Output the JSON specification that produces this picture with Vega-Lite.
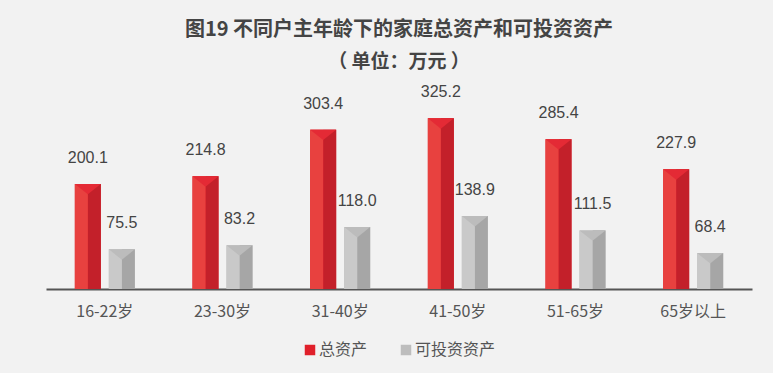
{
  "$schema": "https://vega.github.io/schema/vega-lite/v6.json",
  "autosize": "none",
  "width": 706,
  "height": 210,
  "padding": {"left": 46, "top": 79, "right": 21, "bottom": 84},
  "background": "#f2f2f2",
  "config": {
    "view": {"stroke": null},
    "font": "Noto Sans CJK SC"
  },
  "title": {
    "text": "图19 不同户主年龄下的家庭总资产和可投资资产",
    "subtitle": "（ 单位：万元 ）",
    "anchor": "middle",
    "fontSize": 20,
    "fontWeight": "bold",
    "color": "#444444",
    "subtitleFontSize": 19,
    "subtitleFontWeight": "bold",
    "subtitleColor": "#444444",
    "subtitlePadding": 13,
    "offset": 7
  },
  "data": {
    "values": [
      {"age": "16-22岁", "type": "总资产", "value": 200.1},
      {"age": "16-22岁", "type": "可投资资产", "value": 75.5},
      {"age": "23-30岁", "type": "总资产", "value": 214.8},
      {"age": "23-30岁", "type": "可投资资产", "value": 83.2},
      {"age": "31-40岁", "type": "总资产", "value": 303.4},
      {"age": "31-40岁", "type": "可投资资产", "value": 118.0},
      {"age": "41-50岁", "type": "总资产", "value": 325.2},
      {"age": "41-50岁", "type": "可投资资产", "value": 138.9},
      {"age": "51-65岁", "type": "总资产", "value": 285.4},
      {"age": "51-65岁", "type": "可投资资产", "value": 111.5},
      {"age": "65岁以上", "type": "总资产", "value": 227.9},
      {"age": "65岁以上", "type": "可投资资产", "value": 68.4}
    ]
  },
  "encoding": {
    "x": {
      "field": "age", "type": "nominal", "sort": null,
      "scale": {"paddingInner": 0, "paddingOuter": 0},
      "axis": {
        "title": null, "labelAngle": 0, "ticks": false, "domainColor": "#555555",
        "domainWidth": 2, "labelFontSize": 16, "labelColor": "#555555",
        "labelPadding": 14, "labelFont": "Noto Sans CJK SC"
      }
    },
    "y": {
      "field": "value", "type": "quantitative",
      "scale": {"domain": [0, 400]},
      "axis": null
    }
  },
  "layer": [
    {
      "transform": [{"filter": "datum.type === '总资产'"}],
      "mark": {"type": "bar", "width": 26, "xOffset": -17},
      "encoding": {
        "color": {
          "field": "type", "type": "nominal",
          "scale": {"domain": ["总资产", "可投资资产"], "range": ["#e0202b", "#bdbdbd"]},
          "legend": {
            "title": null, "orient": "none", "legendX": 256, "legendY": 263,
            "direction": "horizontal",
            "symbolType": "square", "symbolSize": 110, "symbolStrokeWidth": 0,
            "labelFontSize": 16, "labelColor": "#555555", "labelFont": "Noto Sans CJK SC",
            "columnPadding": 30, "labelOffset": 1
          }
        }
      }
    },
    {
      "transform": [{"filter": "datum.type === '可投资资产'"}],
      "mark": {"type": "bar", "width": 26, "xOffset": 17},
      "encoding": {
        "color": {"field": "type", "type": "nominal"}
      }
    },
    {
      "transform": [{"filter": "datum.type === '总资产'"}],
      "mark": {"type": "bar", "width": 13, "xOffset": -10.5, "fill": "#c3202a"}
    },
    {
      "transform": [{"filter": "datum.type === '总资产'"}],
      "mark": {"type": "bar", "width": 13, "xOffset": -23.5, "fill": "#e8413f"}
    },
    {
      "transform": [{"filter": "datum.type === '可投资资产'"}],
      "mark": {"type": "bar", "width": 13, "xOffset": 23.5, "fill": "#a6a6a6"}
    },
    {
      "transform": [{"filter": "datum.type === '可投资资产'"}],
      "mark": {"type": "bar", "width": 13, "xOffset": 10.5, "fill": "#c9c9c9"}
    },
    {
      "transform": [{"filter": "datum.type === '总资产'"}],
      "mark": {
        "type": "point", "filled": true, "opacity": 1, "fill": "#e42a35",
        "shape": "M-1,-1L1,-1L0,-0.2Z", "size": 676, "xOffset": -17, "yOffset": 13
      }
    },
    {
      "transform": [{"filter": "datum.type === '可投资资产'"}],
      "mark": {
        "type": "point", "filled": true, "opacity": 1, "fill": "#bcbcbc",
        "shape": "M-1,-1L1,-1L0,-0.2Z", "size": 676, "xOffset": 17, "yOffset": 13
      }
    },
    {
      "transform": [{"filter": "datum.type === '总资产'"}],
      "mark": {"type": "text", "baseline": "bottom", "dy": -18, "xOffset": -17, "fontSize": 16, "color": "#444444", "font": "Liberation Sans"},
      "encoding": {
        "text": {"field": "value", "type": "quantitative", "format": ".1f"}
      }
    },
    {
      "transform": [{"filter": "datum.type === '可投资资产'"}],
      "mark": {"type": "text", "baseline": "bottom", "dy": -18, "xOffset": 17, "fontSize": 16, "color": "#444444", "font": "Liberation Sans"},
      "encoding": {
        "text": {"field": "value", "type": "quantitative", "format": ".1f"}
      }
    }
  ]
}
